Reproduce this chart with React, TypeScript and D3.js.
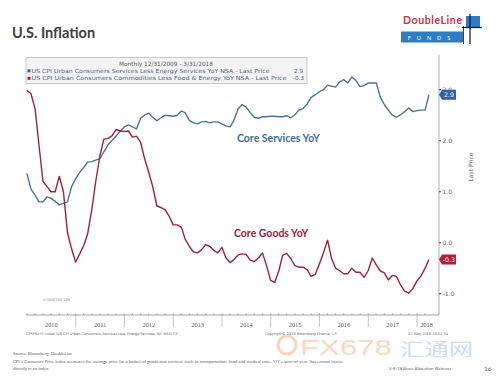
import React from "react";
import * as d3 from "d3";

const startDate = new Date(2009, 11, 31);
const servicesYoY = [
  1.36, 1.05, 0.93, 0.8, 0.8, 0.9, 0.87, 0.81, 0.74, 0.77, 0.8, 1.1, 1.25, 1.38, 1.48, 1.58, 1.59, 1.62, 1.65, 1.78,
  1.92, 2.01, 2.09, 2.19, 2.27, 2.31, 2.27, 2.23, 2.44, 2.5, 2.54, 2.46, 2.39, 2.45, 2.5, 2.49, 2.48, 2.5, 2.58, 2.55,
  2.4, 2.35, 2.33, 2.37, 2.38, 2.35, 2.37, 2.37, 2.33, 2.29, 2.27, 2.4, 2.62, 2.71, 2.66, 2.55, 2.46, 2.44, 2.47, 2.47,
  2.48, 2.48, 2.47, 2.47, 2.49, 2.45, 2.51, 2.6, 2.63, 2.72, 2.85, 2.9, 2.96, 3.0, 3.09, 3.07, 3.05, 3.15, 3.2, 3.13,
  3.25, 3.18, 3.06, 3.08, 3.13, 3.13, 3.13, 2.86, 2.71, 2.6, 2.5, 2.46, 2.51, 2.57, 2.64, 2.57, 2.59, 2.6, 2.6, 2.9,
];
const goodsYoY = [
  2.99, 2.92, 2.62, 1.93, 1.2, 1.1, 1.0, 1.0, 1.3, 1.0, 0.2, -0.12, -0.38, -0.22, -0.05, 0.17, 0.64, 1.2, 1.7, 2.03,
  2.04, 2.1, 2.22, 2.19, 2.18, 2.19, 2.07, 2.09, 1.97, 1.65, 1.38, 1.1, 0.72, 0.69, 0.65, 0.52, 0.35, 0.35, 0.3, 0.07,
  -0.07, -0.18, -0.2, -0.14, -0.04, -0.07, -0.15, -0.2, -0.09, -0.3, -0.39, -0.33, -0.24, -0.22, -0.23, -0.34, -0.37, -0.3, -0.2, -0.45,
  -0.74, -0.78, -0.55, -0.25, -0.21, -0.31, -0.45, -0.48, -0.48, -0.53, -0.66, -0.62, -0.42, -0.2, 0.05, -0.3, -0.5, -0.55, -0.61, -0.61,
  -0.5, -0.58, -0.58, -0.68, -0.55, -0.3, -0.44, -0.55, -0.59, -0.73, -0.64, -0.66, -0.83, -0.95, -0.99, -0.9, -0.75, -0.65, -0.5, -0.33,
];
const yTicks = [3.0, 2.0, 1.0, 0.0, -1.0];
const years = [2010, 2011, 2012, 2013, 2014, 2015, 2016, 2017, 2018];
const legendTitle = "Monthly 12/31/2009 - 3/31/2018";
const servicesName = "US CPI Urban Consumers Services Less Energy Services YoY NSA - Last Price";
const goodsName = "US CPI Urban Consumers Commodities Less Food & Energy YoY NSA - Last Price";

const BLUE = "#4a7499";
const RED = "#a3203a";

export default function App() {
  const dates = servicesYoY.map((_, i) => d3.timeMonth.offset(startDate, i));
  const x = d3.scaleTime().domain([new Date(2010, 0, 1), new Date(2018, 0, 1)]).range([27, 417]);
  const y = d3.scaleLinear().domain([0, 3]).range([242.7, 89.7]);
  const line = d3
    .line<number>()
    .x((_, i) => x(dates[i]))
    .y((d) => y(d));

  const axisY = 315;
  const rightX = 439;
  const lastS = servicesYoY[servicesYoY.length - 1];
  const lastG = goodsYoY[goodsYoY.length - 1];
  const minorTicks = d3.timeMonth.every(2)!.range(new Date(2010, 0, 1), new Date(2018, 4, 1));
  const chartFont = "DejaVu Sans, sans-serif";

  const tag = (v: number, color: string) => {
    const cy = y(v);
    return (
      <g>
        <path d={`M${rightX},${cy} L${rightX + 3},${cy - 5} L${rightX + 17},${cy - 5} L${rightX + 17},${cy + 5} L${rightX + 3},${cy + 5} Z`} fill={color} />
        <text x={rightX + 10} y={cy + 2.2} fontSize={6.3} fill="#fff" textAnchor="middle" fontFamily={chartFont}>
          {v.toFixed(1)}
        </text>
      </g>
    );
  };

  return (
    <svg width={500} height={379} style={{ position: "absolute", left: 0, top: 0 }} xmlns="http://www.w3.org/2000/svg">
      <rect width={500} height={379} fill="#fff" />
      <text x={12} y={38} fontFamily="Lato, sans-serif" fontWeight={700} fontSize={14.5} fill="#404040">
        U.S. Inflation
      </text>
      {/* logo */}
      <g>
        <text x={403} y={24} fontFamily="Lato, sans-serif" fontWeight={700} fontSize={10.5} fill="#c8343f" textLength={59}>
          DoubleLine
        </text>
        <rect x={401} y={31.5} width={62} height={11} fill="#2e7cc4" />
        <text x={432} y={39.5} fontFamily="Lato, sans-serif" fontSize={5.5} fill="#fff" textAnchor="middle" letterSpacing={6}>
          FUNDS
        </text>
        <rect x={466} y={16} width={14} height={11} fill="#2e7cc4" />
        <line x1={470} y1={14} x2={470} y2={44} stroke="#111" strokeWidth={1.2} />
        <line x1={462} y1={27.5} x2={482} y2={27.5} stroke="#111" strokeWidth={1.2} />
        <line x1={463.5} y1={26} x2={463.5} y2={44} stroke="#111" strokeWidth={0.8} />
      </g>

      {/* right axis */}
      <line x1={rightX} y1={55} x2={rightX} y2={axisY} stroke="#9a9a9a" strokeWidth={0.8} />
      {yTicks.map((t) => (
        <g key={t}>
          <rect x={rightX} y={y(t) - 0.6} width={2} height={1.2} fill="#555" />
          <text x={rightX + 3.5} y={y(t) + 2} fontSize={6} fill="#666" fontFamily={chartFont}>
            {t.toFixed(1)}
          </text>
        </g>
      ))}
      <text transform={`translate(473,167) rotate(-90)`} fontSize={6} fill="#666" textAnchor="middle" fontFamily={chartFont}>
        Last Price
      </text>

      {/* x axis */}
      <line x1={26} y1={axisY} x2={rightX} y2={axisY} stroke="#8a8a8a" strokeWidth={0.8} />
      {minorTicks.map((d, i) => (
        <line key={i} x1={x(d)} y1={axisY} x2={x(d)} y2={axisY - 2} stroke="#8a8a8a" strokeWidth={0.6} />
      ))}
      {years.slice(1).map((yr) => (
        <line key={yr} x1={x(new Date(yr, 0, 1))} y1={axisY} x2={x(new Date(yr, 0, 1))} y2={axisY + 12} stroke="#9a9a9a" strokeWidth={0.6} />
      ))}
      {years.map((yr) => {
        const a = x(new Date(yr, 0, 1));
        const b = yr === 2018 ? a + 19 : x(new Date(yr + 1, 0, 1));
        return (
          <text key={yr} x={(a + b) / 2} y={326.5} fontSize={6.3} fill="#555" textAnchor="middle" fontFamily="Liberation Serif, serif">
            {yr}
          </text>
        );
      })}
      <text x={26} y={334.5} fontSize={3.5} fill="#666" fontFamily={chartFont}>
        CPRPSXYY Index (US CPI Urban Consumers Services Less Energy Services YoY NSA) CP
      </text>
      <text x={265} y={334.5} fontSize={3.5} fill="#666" fontFamily={chartFont}>
        Copyright© 2018 Bloomberg Finance L.P.
      </text>
      <text x={408} y={334.5} fontSize={3.5} fill="#666" fontFamily={chartFont}>
        07-May-2018 18:51:54
      </text>
      <text x={43} y={301} fontSize={3.5} fill="#888" fontFamily={chartFont}>
        (c)MASTER 189
      </text>

      {/* lines */}
      <path d={line(servicesYoY) || ""} fill="none" stroke={BLUE} strokeWidth={1.4} strokeLinejoin="round" />
      <path d={line(goodsYoY) || ""} fill="none" stroke={RED} strokeWidth={1.4} strokeLinejoin="round" />
      {tag(lastS, "#2f62a8")}
      {tag(lastG, "#b01e3c")}

      {/* annotations */}
      <text x={237} y={142} fontFamily="Lato, sans-serif" fontWeight={700} fontSize={10.5} fill="#3f6d9c">
        Core Services YoY
      </text>
      <text x={234} y={237} fontFamily="Lato, sans-serif" fontWeight={700} fontSize={10.5} fill="#9c2238">
        Core Goods YoY
      </text>

      {/* legend */}
      <rect x={26} y={57.5} width={281} height={26} fill="#f3f3f3" stroke="#b5b5b5" strokeWidth={0.7} />
      <text x={166} y={66} fontSize={5.8} fill="#555" textAnchor="middle" fontFamily={chartFont}>
        {legendTitle}
      </text>
      <rect x={27.5} y={69.3} width={3} height={3} fill="#2f62a8" />
      <text x={31.5} y={72.5} fontSize={5.6} fill="#4b6390" fontFamily={chartFont} textLength={238} lengthAdjust="spacingAndGlyphs">
        {servicesName}
      </text>
      <text x={303} y={72.5} fontSize={5.6} fill="#4b6390" textAnchor="end" fontFamily={chartFont}>
        {lastS.toFixed(1)}
      </text>
      <rect x={27.5} y={76.8} width={3} height={3} fill="#b01e3c" />
      <text x={31.5} y={80} fontSize={5.6} fill="#4b6390" fontFamily={chartFont} textLength={255} lengthAdjust="spacingAndGlyphs">
        {goodsName}
      </text>
      <text x={304} y={80} fontSize={5.6} fill="#4b6390" textAnchor="end" fontFamily={chartFont}>
        {lastG.toFixed(1)}
      </text>

      {/* watermark */}
      <g opacity={0.45}>
        <circle cx={287} cy={345} r={9} fill="none" stroke="#f0a070" strokeWidth={3} />
        <text x={300} y={355} fontFamily="Liberation Sans, sans-serif" fontSize={22} fill="#f3a775" textLength={92} lengthAdjust="spacingAndGlyphs">
          FX678
        </text>
        <text x={400} y={356} fontFamily="Noto Sans CJK SC, sans-serif" fontSize={18} fill="#8fb4dc" textLength={73} lengthAdjust="spacingAndGlyphs">
          汇通网
        </text>
      </g>

      {/* footer */}
      <text x={13} y={355} fontSize={4.3} fill="#666" fontFamily="Lato, sans-serif">
        Source: Bloomberg, DoubleLine
      </text>
      <text x={13} y={363} fontSize={4.3} fill="#666" fontFamily="Lato, sans-serif">
        CPI = Consumer Price Index measures the average price for a basket of goods and services, such as transportation, food and medical care., Y/Y = year-of-year. You cannot invest
      </text>
      <text x={13} y={370} fontSize={4.3} fill="#666" fontFamily="Lato, sans-serif">
        directly in an index.
      </text>
      <text x={389} y={370} fontSize={4.3} fill="#666" fontFamily="Lato, sans-serif">
        5-8-18 Asset Allocation Webcast
      </text>
      <text x={484} y={370.5} fontSize={6.5} fill="#666" fontFamily="Lato, sans-serif">
        16
      </text>
    </svg>
  );
}
